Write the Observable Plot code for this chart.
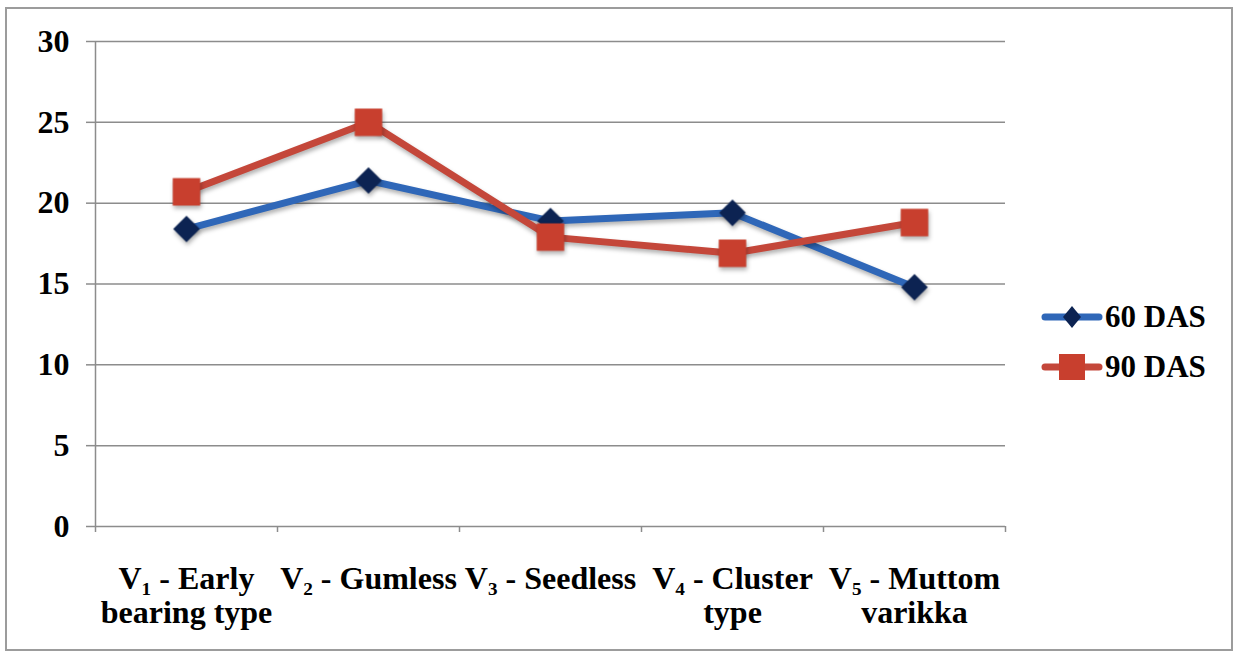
<!DOCTYPE html>
<html>
<head>
<meta charset="utf-8">
<script src="https://cdn.jsdelivr.net/npm/d3@7"></script>
<script src="https://cdn.jsdelivr.net/npm/@observablehq/plot@0.6"></script>
<style>
  html, body { margin: 0; padding: 0; background: #fff; }
  #wrap { position: relative; width: 1235px; height: 655px; overflow: hidden; }
  #frame {
    position: absolute; left: 5px; top: 7px; width: 1224px; height: 640px;
    border: 2px solid #9c9c9c; pointer-events: none;
  }
  #legend {
    position: absolute; left: 1043px; top: 292px;
    font-family: "Liberation Serif", Tinos, "Times New Roman", Times, "DejaVu Serif", serif; font-weight: bold;
    font-size: 31px; color: #000;
  }
  .row { display: flex; align-items: center; height: 50px; }
  .row svg { margin-right: 4px; overflow: visible; }
</style>
</head>
<body>
<div id="wrap">
  <div id="chart"></div>
  <div id="legend"></div>
  <div id="frame"></div>
</div>
<script>
// Varieties on the x axis
const categories = [
  "V\u2081 - Early\nbearing type",
  "V\u2082 - Gumless",
  "V\u2083 - Seedless",
  "V\u2084 - Cluster\ntype",
  "V\u2085 - Muttom\nvarikka"
];
// Series names
const series = ["60 DAS", "90 DAS"];
// Values at 60 and 90 days after sowing
const das60 = [18.4, 21.4, 18.9, 19.4, 14.8];
const das90 = [20.7, 25.0, 17.9, 16.9, 18.8];
// Value axis ticks
const yTicks = [0, 5, 10, 15, 20, 25, 30];

const lineColors = ["#2f67b8", "#c4473a"];
const markerColors = ["#0c2352", "#c83f2e"];

const rows60 = das60.map((v, i) => ({i, value: v, series: series[0]}));
const rows90 = das90.map((v, i) => ({i, value: v, series: series[1]}));

// Category boundaries carry the x-axis tick marks
const boundaries = d3.range(categories.length + 1).map(k => k - 0.5);
const centers = d3.range(categories.length);

const chart = Plot.plot({
  width: 1235,
  height: 655,
  marginLeft: 95,
  marginRight: 230,
  marginTop: 41,
  marginBottom: 129,
  style: {
    fontFamily: "'Liberation Serif', Tinos, 'Times New Roman', Times, 'DejaVu Serif', serif",
    fontWeight: "bold",
    fontSize: "32px",
    color: "#000",
    background: "#fff",
    overflow: "visible"
  },
  x: {type: "linear", domain: [-0.5, categories.length - 0.5]},
  y: {domain: [0, 30]},
  color: {domain: series, range: lineColors},
  marks: [
    Plot.gridY(yTicks, {stroke: "#8c8c8c", strokeOpacity: 1, strokeWidth: 1.5}),
    Plot.axisY(yTicks, {tickSize: 9, tickPadding: 17, stroke: "#8c8c8c", strokeWidth: 1.5, label: null}),
    Plot.ruleX([-0.5], {stroke: "#8c8c8c", strokeWidth: 1.5}),
    Plot.axisX(boundaries, {tickSize: 6, tickFormat: () => "", stroke: "#8c8c8c", strokeWidth: 1.5, label: null}),
    Plot.axisX(centers, {tickSize: 0, tickPadding: 38, tickFormat: i => categories[i], lineHeight: 1.06, label: null}),
    Plot.line(rows60, {x: "i", y: "value", stroke: "series", strokeWidth: 7, strokeLinejoin: "round"}),
    Plot.dot(rows60, {x: "i", y: "value", symbol: "diamond2", r: 12, fill: markerColors[0], stroke: "none"}),
    Plot.line(rows90, {x: "i", y: "value", stroke: "series", strokeWidth: 7, strokeLinejoin: "round"}),
    Plot.dot(rows90, {x: "i", y: "value", symbol: "square", r: 15.5, fill: markerColors[1], stroke: "none"})
  ]
});

// Soft drop shadow under the series lines and markers
chart.querySelectorAll('g[aria-label="line"], g[aria-label="dot"]').forEach(g => {
  g.style.filter = "drop-shadow(1px 3px 2px rgba(0,0,0,0.3))";
});

document.getElementById("chart").append(chart);

// Legend: line swatch with the series marker
const legend = d3.select("#legend");
series.forEach((name, k) => {
  const row = legend.append("div").attr("class", "row");
  const svg = row.append("svg").attr("width", 58).attr("height", 30);
  svg.append("line")
    .attr("x1", 2).attr("x2", 56).attr("y1", 15).attr("y2", 15)
    .attr("stroke", lineColors[k]).attr("stroke-width", 7).attr("stroke-linecap", "round");
  if (k === 0) {
    svg.append("path").attr("d", "M29,4 L38,15 L29,26 L20,15 Z").attr("fill", markerColors[0]);
  } else {
    svg.append("rect").attr("x", 16).attr("y", 2).attr("width", 26).attr("height", 26).attr("fill", markerColors[1]);
  }
  row.append("span").text(name);
});
</script>
</body>
</html>
